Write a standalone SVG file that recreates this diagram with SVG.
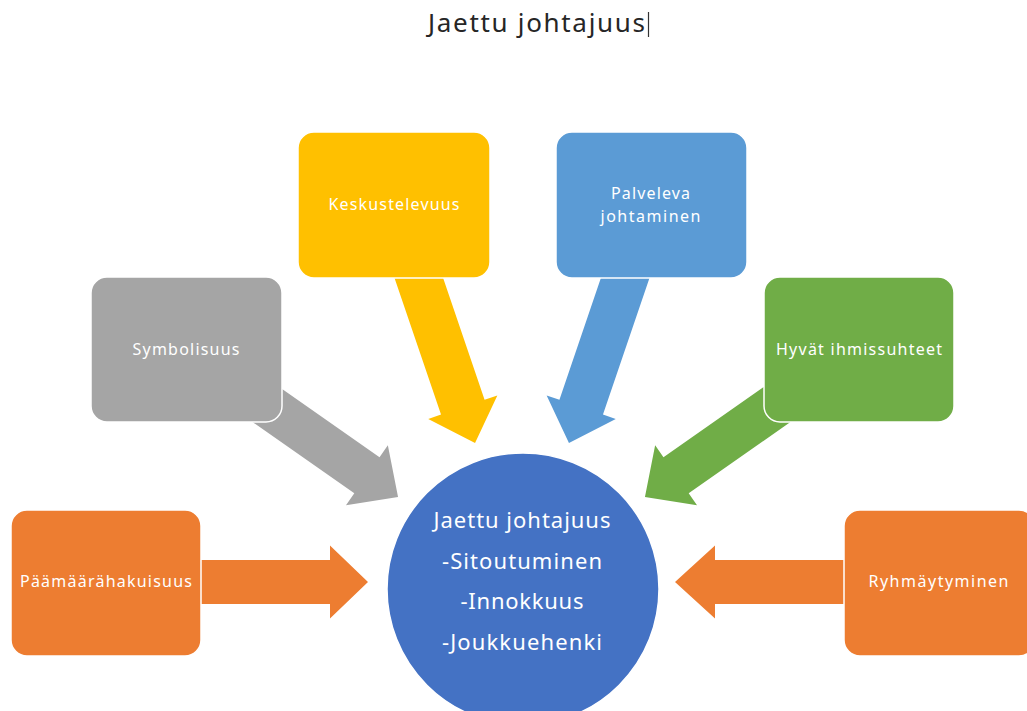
<svg xmlns="http://www.w3.org/2000/svg" width="1027" height="711" viewBox="0 0 1027 711">
<style>
.box{stroke:#ffffff;stroke-width:1.5}
.lbl{font-family:"Noto Sans","Liberation Sans",sans-serif;font-size:16px;fill:#ffffff;text-anchor:middle}
.ctr{font-family:"Noto Sans","Liberation Sans",sans-serif;font-size:22px;fill:#ffffff;text-anchor:middle}
.title{font-family:"Noto Sans","Liberation Sans",sans-serif;font-size:26px;fill:#262626;text-anchor:middle}
.orange{fill:#ED7D31}.gray{fill:#A5A5A5}.yellow{fill:#FFC000}.blue{fill:#5B9BD5}.green{fill:#70AD47}
</style>
<rect width="1027" height="711" fill="#ffffff"/>
<g id="title">
<text class="title" x="536.5" y="32" textLength="217" lengthAdjust="spacing">Jaettu johtajuus</text>
<line x1="648.5" y1="12" x2="648.5" y2="37" stroke="#333333" stroke-width="1.2"/>
</g>
<g id="connectors">
<polygon class="orange" points="0,-22 140,-22 140,-36.5 178,0 140,36.5 140,22 0,22" transform="translate(190,582)"/>
<polygon class="orange" points="0,-22 140,-22 140,-36.5 180,0 140,36.5 140,22 0,22" transform="translate(855,582) rotate(180)"/>
<polygon class="gray" points="0,-22 142,-22 142,-36.5 180,0 142,36.5 142,22 0,22" transform="translate(250.6,393.8) rotate(35)"/>
<polygon class="green" points="0,-22 142,-22 142,-36.5 180,0 142,36.5 142,22 0,22" transform="translate(792.4,393.8) rotate(145)"/>
<polygon class="yellow" points="0,-23 166,-23 166,-36.5 204,0 166,36.5 166,23 0,23" transform="translate(409.3,250) rotate(71.2)"/>
<polygon class="blue" points="0,-23 166,-23 166,-36.5 204,0 166,36.5 166,23 0,23" transform="translate(634.7,250) rotate(108.8)"/>
</g>
<g id="node-symbolisuus">
<rect class="box gray" x="91" y="277" width="191" height="145" rx="16"/>
<text class="lbl" x="186" y="355" textLength="107" lengthAdjust="spacing">Symbolisuus</text>
</g>
<g id="node-keskustelevuus">
<rect class="box yellow" x="298" y="132" width="192" height="146" rx="16"/>
<text class="lbl" x="394" y="210" textLength="131" lengthAdjust="spacing">Keskustelevuus</text>
</g>
<g id="node-palveleva">
<rect class="box blue" x="556" y="132" width="191" height="146" rx="16"/>
<text class="lbl" x="650.5" y="199" textLength="79" lengthAdjust="spacing">Palveleva</text>
<text class="lbl" x="650.5" y="221.5" textLength="100" lengthAdjust="spacing">johtaminen</text>
</g>
<g id="node-hyvat">
<rect class="box green" x="764" y="277" width="190" height="145" rx="16"/>
<text class="lbl" x="859" y="355" textLength="166" lengthAdjust="spacing">Hyvät ihmissuhteet</text>
</g>
<g id="node-paamaara">
<rect class="box orange" x="11" y="510" width="190" height="146" rx="16"/>
<text class="lbl" x="106" y="587" textLength="172" lengthAdjust="spacing">Päämäärähakuisuus</text>
</g>
<g id="node-ryhmaytyminen">
<rect class="box orange" x="844" y="510" width="191" height="146" rx="16"/>
<text class="lbl" x="938.5" y="587" textLength="140" lengthAdjust="spacing">Ryhmäytyminen</text>
</g>
<g id="node-center">
<circle cx="523" cy="589" r="136" fill="#4472C4" stroke="#ffffff" stroke-width="1.5"/>
<text class="ctr" x="522" y="528" textLength="177" lengthAdjust="spacing">Jaettu johtajuus</text>
<text class="ctr" x="522" y="569" textLength="160" lengthAdjust="spacing">-Sitoutuminen</text>
<text class="ctr" x="522" y="609" textLength="123" lengthAdjust="spacing">-Innokkuus</text>
<text class="ctr" x="522" y="650" textLength="160" lengthAdjust="spacing">-Joukkuehenki</text>
</g>
</svg>
